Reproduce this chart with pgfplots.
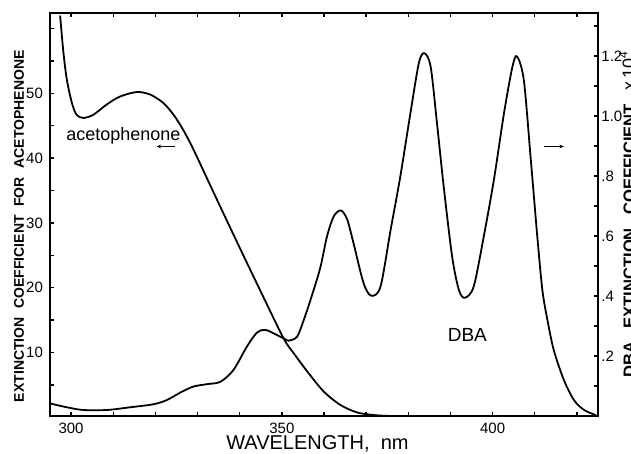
\documentclass[border=0pt]{standalone}
\usepackage{pgfplots}
\pgfplotsset{compat=1.18}
\usepackage{fontspec}
\setmainfont{Liberation Sans}
\usetikzlibrary{arrows.meta}

\begin{document}
\begin{tikzpicture}
\pgfplotsset{
  every axis/.append style={
    scale only axis, width=274pt, height=201.5pt,
    xmin=295, xmax=425,
    axis line style={line width=0.9pt},
    tick align=inside,
    major tick length=2.2pt, minor tick length=2.2pt,
    every tick/.style={line width=0.7pt, black},
    tick label style={font=\fontsize{7.5}{8}\selectfont},
    /pgf/number format/assume math mode=true,
  },
}
% left axis: acetophenone
\begin{axis}[
    ymin=0.2, ymax=62.4,
    xtick={300,350,400},
    minor xtick={310,320,330,340,360,370,380,390,410,420},
    ytick={10,20,30,40,50},
    minor ytick={5,15,25,35,45,55,60},
    ytick pos=left,
    xlabel={WAVELENGTH,\ \ nm},
    xlabel style={at={(rel axis cs:0.488,0)}, anchor=north, yshift=-6.4pt,
        font=\fontsize{10}{12}\selectfont},
    ylabel={EXTINCTION\hspace{0.62em}COEFFICIENT\hspace{0.62em}FOR\hspace{0.62em}ACETOPHENONE},
    ylabel style={at={(rel axis cs:0,0.471)}, anchor=center, yshift=15.5pt,
        font=\bfseries\fontsize{7}{8}\selectfont},
]
\addplot[black, line width=0.9pt, smooth] coordinates {
(297.4,62.0) (298.2,56.2) (299.0,52.1) (300.2,48.5) (301.3,46.7)
(302.9,46.2) (305.3,46.7) (308.5,48.3) (311.6,49.5) (315.6,50.2)
(318.8,49.8) (321.9,48.5) (324.3,46.7) (326.3,44.7) (328.3,42.3)
(330.0,40.0) (334.6,33.6) (340.2,25.9) (345.0,19.4) (350.4,12.2)
(352.8,9.9) (356.0,7.1) (359.9,4.0) (363.9,1.9) (367.9,0.74)
(371.8,0.35) (375.8,0.2) (380.0,0.2)
};
\coordinate (sw) at (rel axis cs:0,0);
\coordinate (ne) at (rel axis cs:1,1);
\coordinate (rm) at (rel axis cs:1,0.50);
\node[font=\fontsize{9}{10}\selectfont] at (axis cs:312.4,43.4) {acetophenone};
\draw[line width=0.5pt, -{Stealth[length=2.2pt,width=1.8pt]}] (axis cs:324.7,41.8) -- (axis cs:320.3,41.8);
\node[font=\fontsize{9.5}{10}\selectfont] at (axis cs:394,12.7) {DBA};
\draw[line width=0.5pt, -{Stealth[length=2.2pt,width=1.8pt]}] (axis cs:412.2,41.8) -- (axis cs:416.9,41.8);
\end{axis}
% right axis: DBA (x 10^4)
\begin{axis}[
    ymin=0, ymax=1.343,
    axis x line=none,
    axis y line*=right,
    ytick={0.2,0.4,0.6,0.8,1.0,1.2},
    yticklabels={.2,.4,.6,.8,1.0,1.2},
    minor ytick={0.1,0.3,0.5,0.7,0.9,1.1,1.3},
    yticklabel style={xshift=-1.8pt},
]
\addplot[black, line width=0.9pt, smooth] coordinates {
(295.0,0.042) (299.0,0.029) (302.9,0.020) (308.5,0.020) (314.0,0.029)
(319.5,0.039) (322.7,0.053) (325.9,0.078) (329.0,0.098) (332.2,0.106)
(335.4,0.114) (338.5,0.153) (341.7,0.231) (344.1,0.278) (346.1,0.287)
(348.8,0.270) (350.8,0.256) (351.6,0.251) (353.6,0.264) (355.2,0.320)
(356.8,0.387) (359.1,0.493) (360.7,0.598) (362.3,0.665) (364.0,0.685)
(365.5,0.655) (367.0,0.576) (369.4,0.442) (371.2,0.401) (373.4,0.431)
(375.8,0.620) (378.1,0.798) (380.5,1.009) (382.5,1.176) (383.8,1.209)
(385.3,1.164) (386.8,0.976) (388.4,0.764) (390.4,0.531) (392.0,0.420)
(393.4,0.394) (395.5,0.431) (397.9,0.598) (400.3,0.787) (402.7,1.009)
(404.7,1.164) (405.8,1.198) (407.4,1.120) (409.0,0.864) (410.6,0.598)
(411.8,0.420) (413.0,0.320) (414.5,0.220) (416.9,0.120) (419.3,0.053)
(421.7,0.020) (424.5,0.003)
};
\end{axis}
% right-hand label, partly beyond the picture's edge as in the original
\node[rotate=90, anchor=base, font=\bfseries\fontsize{8.3}{9}\selectfont]
    at ([xshift=18.5pt]rm)
    {DBA\hspace{0.8em}EXTINCTION\hspace{0.8em}COEFFICIENT\hspace{0.8em}{\mdseries\fontsize{9}{10}\selectfont x\,10\textsuperscript{4}}};
\pgfresetboundingbox
\path[use as bounding box] ([shift={(-25pt,-19pt)}]sw) rectangle ([shift={(16.5pt,6.5pt)}]ne);
\end{tikzpicture}
\end{document}
